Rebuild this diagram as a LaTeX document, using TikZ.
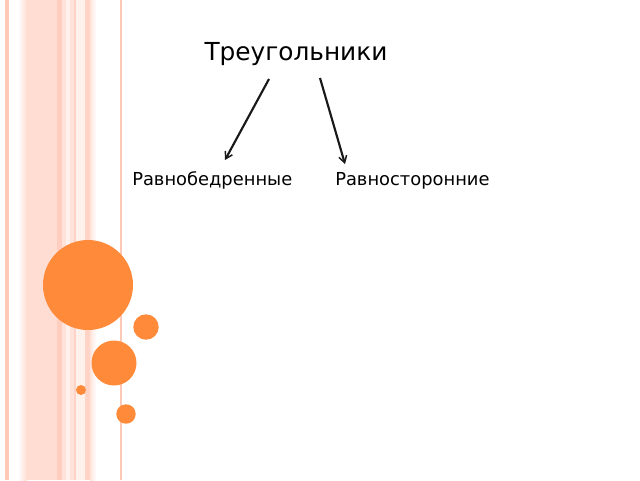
\documentclass[tikz,border=0pt]{standalone}
\usepackage{fontspec}
\setmainfont{DejaVu Sans}
\usetikzlibrary{arrows.meta}
\definecolor{stripeA}{HTML}{FFC9B8}
\definecolor{stripeB}{HTML}{FFDDD2}
\definecolor{stripeC}{HTML}{FFE3DA}
\definecolor{stripeD}{HTML}{FFF1EC}
\definecolor{stripeE}{HTML}{FFD3C6}
\definecolor{dotorange}{HTML}{FF8A3A}
\tikzset{
  title/.style={font=\fontsize{18.6pt}{21pt}\selectfont, anchor=base, inner sep=0pt},
  label/.style={font=\fontsize{13.4pt}{15pt}\selectfont, anchor=base west, inner sep=0pt},
  arr/.style={line width=1.6pt, -{Straight Barb[length=5pt,width=6pt,line width=1.1pt]}, black!90},
  dot/.style={fill=dotorange, draw=none}
}
\begin{document}
\begin{tikzpicture}[x=0.75pt,y=-0.75pt]
\useasboundingbox (0,0) rectangle (640,480);
\fill[white] (0,0) rectangle (640,480);
% stripes
\fill[stripeA] (5,0) rectangle (9,480);
\shade[left color=white, right color=stripeB] (18,0) rectangle (27,480);
\fill[stripeB] (27,0) rectangle (57,480);
\fill[stripeA!90] (57,0) rectangle (62,480);
\fill[stripeC] (62,0) rectangle (66,480);
\fill[stripeD] (66,0) rectangle (70,480);
\fill[stripeC] (70,0) rectangle (74,480);
\fill[stripeE] (74,0) rectangle (76,480);
\fill[stripeD] (76,0) rectangle (85,480);
\fill[stripeE] (85,0) rectangle (90,480);
\shade[left color=stripeC, right color=white] (90,0) rectangle (96,480);
\fill[stripeA] (120,0) rectangle (122,480);
% circles
\fill[dot] (88,285) circle[radius=45];
\fill[dot] (146,327) circle[radius=12.7];
\fill[dot] (114,363) circle[radius=22.5];
\fill[dot] (81,390) circle[radius=5];
\fill[dot] (126,414) circle[radius=9.7];
% texts
\node[title] (t) at (296,60) {Треугольники};
\node[label] (l) at (132,185) {Равнобедренные};
\node[label] (r) at (335,185) {Равносторонние};
% arrow ends
\coordinate (ls) at (269,79);
\coordinate (le) at (225,160);
\coordinate (rs) at (320,78);
\coordinate (re) at (345,164);
\draw[arr] (ls) -- (le);
\draw[arr] (rs) -- (re);
\end{tikzpicture}
\end{document}
